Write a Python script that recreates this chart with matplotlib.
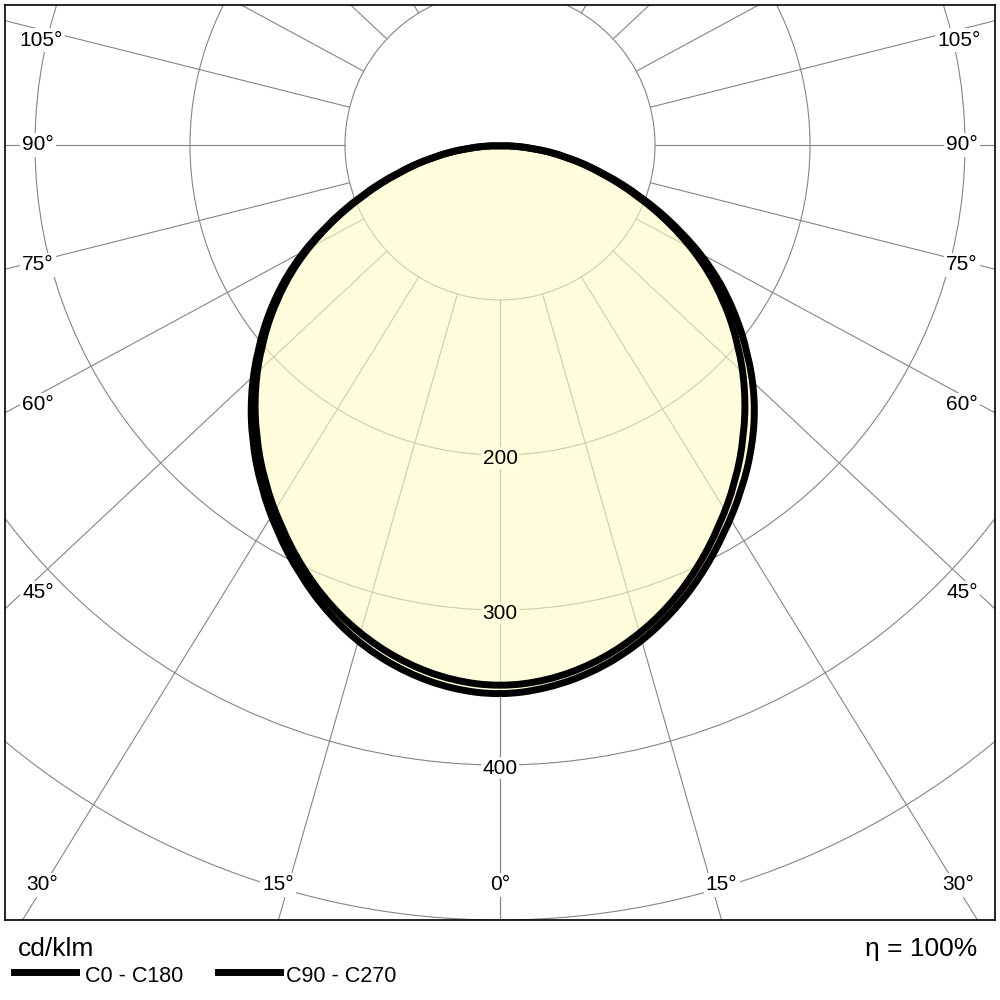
import numpy as np
import matplotlib.pyplot as plt
from matplotlib.patches import Circle, PathPatch
from matplotlib.path import Path
from matplotlib.lines import Line2D

plt.rcParams['font.family'] = ['Liberation Sans', 'DejaVu Sans']

gamma = [0, 5, 10, 15, 20, 25, 30, 35, 40, 45, 50, 55, 60, 65, 70, 75, 80, 85, 90]
c0   = [355, 352, 345.5, 335.5, 322.5, 307, 289.5, 272, 253.5, 233, 209, 184, 157.5, 127, 97, 69, 44.5, 22, 0]
c180 = [355, 352.5, 346, 336, 322.5, 306, 288, 269, 249, 227.5, 204, 180, 154, 124.5, 95.5, 68.5, 44, 21.5, 0]
c90  = [349.5, 347, 340.5, 330.5, 317.5, 301.5, 283.5, 265, 245, 224, 201, 177, 151.5, 123, 94, 67, 43.5, 21, 0]
c270 = [349.5, 347, 340.5, 330.5, 317.5, 301.5, 283.5, 265, 245, 224, 201, 177, 151.5, 123, 94, 67, 43.5, 21, 0]

anillos = [100, 200, 300, 400, 500]
anillos_etiqueta = [200, 300, 400]
angulos_etiqueta = [0, 15, 30, 45, 60, 75, 90, 105]
eta = 100

# estilo y colocacion
gris = '#858585'
relleno = '#FFFDC6'
relleno_visto = '#FFFEDD'
k_radios = 1.067  # los radios del original estan algo abiertos en horizontal
xmax = 319.35
ymin, ymax = -500, 90.3
# donde van los textos de angulo (lado derecho, se reflejan a la izquierda)
pos_angulos = {0: (0, -477.4), 15: (143, -477.4), 30: (295.5, -477.4),
               45: (298, -289), 60: (298, -167.7), 75: (298, -77.4),
               90: (298, 0), 105: (296, 67.7)}


def curva(derecha, izquierda):
    g = np.radians(gamma)
    r_d = np.array(derecha, dtype=float)
    r_i = np.array(izquierda, dtype=float)
    x = np.concatenate([-r_i[::-1] * np.sin(g[::-1]), r_d[1:] * np.sin(g[1:])])
    y = np.concatenate([-r_i[::-1] * np.cos(g[::-1]), -r_d[1:] * np.cos(g[1:])])
    return x, y


def trazo(x, y):
    # trazo cerrado y suave: bezier cuadraticas con los puntos leidos como control
    pts = np.column_stack([x, y])[:-1]
    medios = (pts + np.roll(pts, -1, axis=0)) / 2
    verts = [medios[-1]]
    codes = [Path.MOVETO]
    for i in range(len(pts)):
        verts += [pts[i], medios[i]]
        codes += [Path.CURVE3, Path.CURVE3]
    verts.append(medios[-1])
    codes.append(Path.CLOSEPOLY)
    return Path(verts, codes)


def direccion(ang, lado):
    t = np.radians(ang)
    d = np.array([lado * k_radios * np.sin(t), -np.cos(t)])
    return d / np.linalg.norm(d)


fig = plt.figure(figsize=(10, 10), dpi=100)
ax = fig.add_axes([0.005, 0.08, 0.99, 0.915])
ax.set_xlim(-xmax, xmax)
ax.set_ylim(ymin, ymax)
ax.set_xticks([])
ax.set_yticks([])
for sp in ax.spines.values():
    sp.set_color('black')
    sp.set_linewidth(1.2)

# circulos
for r in anillos:
    ax.add_patch(Circle((0, 0), r, fill=False, edgecolor=gris, lw=0.8, zorder=1))

# radios cada 15 grados, desde el primer circulo hacia afuera
for ang in range(0, 181, 15):
    for lado in (-1, 1):
        d = direccion(ang, lado)
        ax.plot([100 * d[0], 1200 * d[0]], [100 * d[1], 1200 * d[1]],
                color=gris, lw=0.8, zorder=1)

# relleno y curvas
p1 = trazo(*curva(c0, c180))
p2 = trazo(*curva(c90, c270))
ax.add_patch(PathPatch(p1, facecolor=relleno, alpha=0.6, edgecolor='none', zorder=2))
for p in (p1, p2):
    ax.add_patch(PathPatch(p, facecolor='none', edgecolor='black', lw=5,
                           joinstyle='round', capstyle='round', zorder=5))

# etiquetas de los circulos
for r in anillos_etiqueta:
    fondo = relleno_visto if r < max(c0) else 'white'
    ax.text(0, -r - 2, str(r), ha='center', va='center', fontsize=15, zorder=4,
            bbox=dict(facecolor=fondo, edgecolor='none', pad=1.0))

# etiquetas de angulos
for ang in angulos_etiqueta:
    px, py = pos_angulos[ang]
    lados = (1,) if ang == 0 else (-1, 1)
    for lado in lados:
        ax.text(lado * px, py, f'{ang}°', ha='center', va='center',
                fontsize=15, zorder=4,
                bbox=dict(facecolor='white', edgecolor='none', pad=1.5))

# pie: unidades, leyenda y rendimiento
fig.text(0.018, 0.051, 'cd/klm', fontsize=19, ha='left', va='center')
fig.text(0.977, 0.051, f'η = {eta}%', fontsize=19, ha='right', va='center')

fig.add_artist(Line2D([0.014, 0.076], [0.028, 0.028], color='black', lw=5,
                      transform=fig.transFigure))
fig.text(0.085, 0.024, 'C0 - C180', fontsize=15.5, ha='left', va='center')
fig.add_artist(Line2D([0.218, 0.280], [0.028, 0.028], color='black', lw=5,
                      transform=fig.transFigure))
fig.text(0.286, 0.024, 'C90 - C270', fontsize=15.5, ha='left', va='center')

fig.savefig('out.png', dpi=100, facecolor='white')
